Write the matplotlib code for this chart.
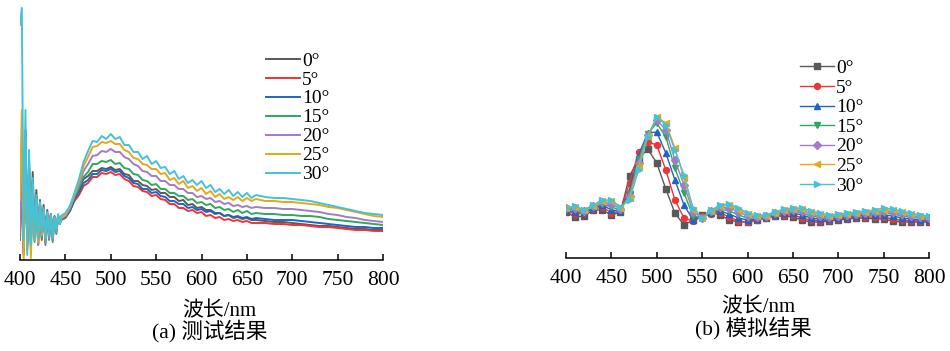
import numpy as np
import matplotlib.pyplot as plt

plt.rcParams['font.family'] = ['Liberation Serif', 'Noto Sans CJK SC']

angles = ['0°', '5°', '10°', '15°', '20°', '25°', '30°']
colors = ['#595959', '#ee3434', '#1f64c4', '#2ea860', '#a47ac6', '#e2a918', '#45c2d6']
markers = ['s', 'o', '^', 'v', 'D', '<', '>']

# (a) measured spectra, arbitrary units
# dense grid at the noisy short-wave end, then 5 nm, then 10 nm
wl_a = np.concatenate([np.arange(400, 445, 2), np.arange(445, 661, 5), np.arange(670, 801, 10)])

meas_0 = [30, 120, 15, 130, 20, 100, 30, 88, 30, 70, 30, 60, 30, 55, 28, 50, 30, 46, 28, 44, 32, 44, 38,
          40, 44, 51, 63, 71, 81, 84, 89, 89, 92, 91, 93, 90, 91, 86, 85, 79, 79, 75, 74,
          70, 71, 67, 67, 63, 63, 59, 60, 55, 56, 52, 53, 50, 50, 47, 47, 44, 45, 42, 43,
          41, 42, 40, 40, 39, 38, 38, 37, 36, 35, 34, 34, 33, 32, 31, 31, 30, 30]
meas_5 = [20, 90, 5, 128, 15, 85, 10, 72, 25, 62, 15, 55, 20, 50, 18, 46, 22, 44, 20, 42, 28, 43, 36,
          40, 42, 49, 59, 65, 74, 77, 83, 83, 87, 86, 88, 85, 86, 81, 79, 74, 73, 69, 68,
          64, 65, 61, 60, 56, 56, 52, 52, 49, 50, 47, 48, 44, 45, 42, 43, 40, 41, 39, 40,
          38, 39, 37, 37, 37, 36, 36, 35, 35, 34, 33, 33, 32, 31, 30, 30, 29, 29]
meas_10 = [25, 100, 10, 115, 18, 90, 15, 78, 22, 64, 20, 56, 24, 51, 22, 47, 26, 45, 24, 43, 30, 44, 37,
           40, 43, 49, 61, 68, 77, 80, 86, 86, 90, 89, 91, 88, 89, 84, 82, 77, 76, 71, 71,
           67, 68, 64, 63, 59, 59, 56, 56, 52, 53, 50, 51, 48, 49, 46, 47, 44, 45, 43, 44,
           42, 43, 41, 42, 41, 40, 40, 40, 39, 38, 37, 36, 35, 34, 33, 33, 32, 32]
meas_15 = [22, 95, 8, 110, 12, 88, 20, 75, 18, 62, 16, 54, 22, 50, 15, 46, 20, 44, 18, 42, 26, 43, 36,
           41, 44, 51, 63, 72, 83, 88, 96, 96, 99, 98, 100, 96, 97, 92, 91, 86, 85, 80, 79,
           75, 76, 71, 71, 67, 67, 64, 64, 60, 61, 57, 58, 55, 56, 52, 53, 50, 51, 48, 50,
           47, 49, 46, 47, 46, 46, 45, 45, 44, 44, 43, 41, 40, 39, 38, 37, 36, 35]
meas_20 = [28, 105, 6, 118, 14, 92, 18, 76, 20, 63, 15, 56, 25, 50, 17, 47, 22, 45, 20, 43, 28, 44, 37,
           41, 44, 52, 64, 75, 89, 96, 104, 105, 109, 108, 111, 108, 108, 103, 101, 96, 94, 89, 88,
           84, 84, 79, 79, 75, 75, 71, 71, 67, 67, 63, 64, 61, 62, 58, 59, 56, 57, 54, 55,
           53, 54, 52, 53, 52, 52, 51, 51, 50, 49, 48, 46, 45, 43, 42, 40, 39, 38]
meas_25 = [60, 150, 0, 120, 10, 95, 2, 75, 20, 60, 18, 55, 25, 50, 22, 47, 28, 44, 25, 42, 32, 44, 36,
           42, 45, 53, 65, 78, 94, 103, 113, 114, 118, 117, 119, 116, 116, 110, 108, 102, 101, 96, 95,
           91, 91, 86, 87, 80, 82, 76, 79, 72, 74, 69, 72, 66, 69, 63, 66, 61, 63, 60, 63,
           59, 62, 59, 61, 59, 59, 58, 58, 57, 56, 55, 53, 52, 50, 48, 46, 44, 43]
meas_30 = [235, 252, 20, 150, 5, 110, 15, 82, 20, 65, 22, 58, 28, 52, 20, 48, 25, 45, 22, 43, 30, 46, 36,
           44, 47, 54, 67, 81, 98, 109, 119, 118, 124, 121, 126, 121, 123, 115, 115, 108, 108, 101, 104,
           96, 99, 92, 93, 86, 89, 81, 84, 77, 80, 75, 79, 72, 75, 68, 71, 66, 70, 64, 68,
           63, 67, 62, 65, 63, 62, 62, 61, 60, 59, 57, 55, 53, 51, 49, 47, 46, 45]

# (b) simulated spectra, every 10 nm
wl_b = np.arange(400, 801, 10)
sim_0 = [46, 41, 42, 48, 48, 43, 46, 82, 99, 109, 95, 69, 45, 33, 38, 43, 46, 43, 38, 36, 36,
         38, 40, 42, 42, 41, 38, 36, 36, 37, 38, 39, 40, 40, 39, 39, 37, 36, 36, 36, 36]
sim_5 = [47, 44, 45, 49, 51, 45, 47, 75, 106, 116, 113, 88, 58, 40, 37, 42, 44, 45, 41, 37, 36,
         38, 40, 42, 43, 43, 40, 38, 37, 38, 39, 40, 41, 41, 41, 41, 39, 38, 37, 37, 37]
sim_10 = [48, 46, 46, 50, 53, 48, 47, 68, 103, 125, 126, 105, 78, 53, 38, 41, 45, 47, 44, 40, 38,
          39, 41, 43, 45, 45, 43, 40, 39, 39, 40, 41, 42, 43, 43, 43, 42, 40, 39, 38, 38]
sim_15 = [49, 48, 46, 51, 54, 51, 48, 64, 99, 124, 135, 121, 90, 65, 42, 40, 46, 49, 47, 43, 40,
          40, 41, 44, 46, 47, 45, 42, 41, 40, 41, 42, 43, 44, 45, 45, 44, 42, 41, 40, 39]
sim_20 = [50, 50, 47, 52, 56, 54, 49, 62, 95, 123, 138, 128, 98, 73, 46, 40, 47, 51, 50, 46, 42,
          41, 42, 45, 47, 48, 47, 44, 42, 41, 42, 43, 44, 45, 46, 47, 46, 44, 42, 41, 40]
sim_25 = [50, 51, 48, 52, 57, 57, 50, 60, 92, 122, 141, 135, 110, 80, 48, 40, 47, 52, 53, 48, 44,
          42, 42, 45, 48, 49, 49, 46, 44, 42, 43, 44, 45, 46, 47, 48, 48, 46, 44, 42, 41]
sim_30 = [50, 52, 48, 53, 58, 58, 51, 58, 88, 121, 141, 133, 108, 83, 50, 40, 48, 53, 54, 50, 45,
          43, 43, 46, 49, 50, 50, 47, 45, 43, 44, 45, 46, 47, 48, 50, 49, 47, 45, 43, 42]

meas = [meas_0, meas_5, meas_10, meas_15, meas_20, meas_25, meas_30]
sims = [sim_0, sim_5, sim_10, sim_15, sim_20, sim_25, sim_30]

fig = plt.figure(figsize=(9.5, 3.51), dpi=100)
W, H = 950, 351
ax1 = fig.add_axes([20 / W, (H - 260) / H, 363 / W, 255 / H])
ax2 = fig.add_axes([566 / W, (H - 258) / H, 363 / W, 248 / H])

for y, c, lab in zip(meas, colors, angles):
    ax1.plot(wl_a, y, color=c, lw=1.4, label=lab)

for y, c, m, lab in zip(sims, colors, markers, angles):
    ax2.plot(wl_b, y, color=c, lw=1.0, marker=m, ms=4.3, mec=c, label=lab)

ax1.set_ylim(0, 255)
ax2.set_ylim(0, 248)

for ax in (ax1, ax2):
    ax.set_xlim(400, 800)
    ax.set_xticks(np.arange(400, 801, 50))
    ax.set_yticks([])
    for s in ('top', 'right', 'left'):
        ax.spines[s].set_visible(False)
    ax.spines['bottom'].set_linewidth(1.1)
    ax.tick_params(axis='x', direction='in', length=4, width=1.1, labelsize=15.5, pad=8)
    ax.set_xlabel('波长/nm', fontsize=15)
    ax.patch.set_alpha(0)

ax1.xaxis.set_label_coords(0.55, -0.165)
ax2.xaxis.set_label_coords(0.53, -0.16)

leg_kw = dict(frameon=False, fontsize=14, handlelength=1.75, handletextpad=0.1,
              labelspacing=0.07, borderpad=0, borderaxespad=0, loc='upper left')
ax1.legend(bbox_to_anchor=(0.678, 0.816), **leg_kw)
ax2.legend(bbox_to_anchor=(0.645, 0.80), **{**leg_kw, 'labelspacing': 0.1})

fig.text(210 / W, 1 - 331 / H, '(a) 测试结果', ha='center', va='center', fontsize=15.5)
fig.text(753 / W, 1 - 328 / H, '(b) 模拟结果', ha='center', va='center', fontsize=15.5)

fig.savefig('out.png', dpi=100)
